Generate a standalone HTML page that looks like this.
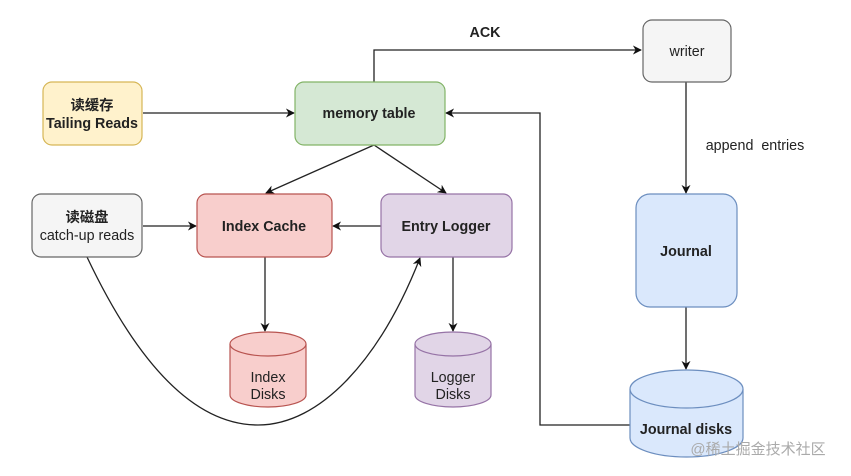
<!DOCTYPE html>
<html><head><meta charset="utf-8"><style>
html,body{margin:0;padding:0;background:#fff;}
svg{display:block;}
text{font-family:"Liberation Sans","Noto Sans CJK SC",sans-serif;font-size:14.3px;fill:#222;text-anchor:middle;}
.b{font-weight:bold;}
</style></head><body>
<svg width="851" height="476" viewBox="0 0 851 476" xmlns="http://www.w3.org/2000/svg">
<defs>
<marker id="a" viewBox="0 0 10 10" refX="9" refY="5" markerWidth="9" markerHeight="9" orient="auto" markerUnits="userSpaceOnUse">
<path d="M0,0 L10,5 L0,10 L3,5 z" fill="#111"/></marker>
</defs>
<g stroke="#222" stroke-width="1.3" fill="none">
<path d="M374,82 V50 H641" marker-end="url(#a)"/>
<path d="M143,113 H294" marker-end="url(#a)"/>
<path d="M630,425 H540 V113 H446" marker-end="url(#a)"/>
<path d="M686,82 V193" marker-end="url(#a)"/>
<path d="M686,307 V369" marker-end="url(#a)"/>
<path d="M374,145 L266,193" marker-end="url(#a)"/>
<path d="M374,145 L446,193" marker-end="url(#a)"/>
<path d="M381,226 H333" marker-end="url(#a)"/>
<path d="M143,226 H196" marker-end="url(#a)"/>
<path d="M265,257 V331" marker-end="url(#a)"/>
<path d="M453,257 V331" marker-end="url(#a)"/>
<path d="M87,257 C150,390 210,425 258,425 C320,425 380,360 420,258" marker-end="url(#a)"/>
</g>
<rect x="43" y="82" width="99" height="63" rx="9" fill="#fff2cc" stroke="#d6b656" stroke-width="1.2"/>
<rect x="295" y="82" width="150" height="63" rx="9" fill="#d5e8d4" stroke="#82b366" stroke-width="1.2"/>
<rect x="32" y="194" width="110" height="63" rx="9" fill="#f5f5f5" stroke="#666" stroke-width="1.2"/>
<rect x="197" y="194" width="135" height="63" rx="9" fill="#f8cecc" stroke="#b85450" stroke-width="1.2"/>
<rect x="381" y="194" width="131" height="63" rx="9" fill="#e1d5e7" stroke="#9673a6" stroke-width="1.2"/>
<rect x="643" y="20" width="88" height="62" rx="9" fill="#f5f5f5" stroke="#666" stroke-width="1.2"/>
<rect x="636" y="194" width="101" height="113" rx="14" fill="#dae8fc" stroke="#6c8ebf" stroke-width="1.2"/>
<g stroke-width="1.2">
<path d="M230,344 V395 A38,12 0 0 0 306,395 V344" fill="#f8cecc" stroke="#b85450"/>
<ellipse cx="268" cy="344" rx="38" ry="12" fill="#f8cecc" stroke="#b85450"/>
<path d="M415,344 V395 A38,12 0 0 0 491,395 V344" fill="#e1d5e7" stroke="#9673a6"/>
<ellipse cx="453" cy="344" rx="38" ry="12" fill="#e1d5e7" stroke="#9673a6"/>
<path d="M630,389 V438 A56.5,19 0 0 0 743,438 V389" fill="#dae8fc" stroke="#6c8ebf"/>
<ellipse cx="686.5" cy="389" rx="56.5" ry="19" fill="#dae8fc" stroke="#6c8ebf"/>
</g>
<text x="485" y="37" class="b">ACK</text>
<text x="755" y="150">append&#160; entries</text>
<text x="92" y="110" class="b">读缓存</text>
<text x="92" y="128" class="b">Tailing Reads</text>
<text x="369" y="118" class="b">memory table</text>
<text x="87" y="222" class="b">读磁盘</text>
<text x="87" y="240">catch-up reads</text>
<text x="264" y="231" class="b">Index Cache</text>
<text x="446" y="231" class="b">Entry Logger</text>
<text x="687" y="56">writer</text>
<text x="686" y="256" class="b">Journal</text>
<text x="268" y="382">Index</text>
<text x="268" y="399">Disks</text>
<text x="453" y="382">Logger</text>
<text x="453" y="399">Disks</text>
<text x="686" y="434" class="b">Journal disks</text>
<text x="758" y="454" style="fill:#aaa;font-size:15px;">@稀土掘金技术社区</text>
</svg>
</body></html>
